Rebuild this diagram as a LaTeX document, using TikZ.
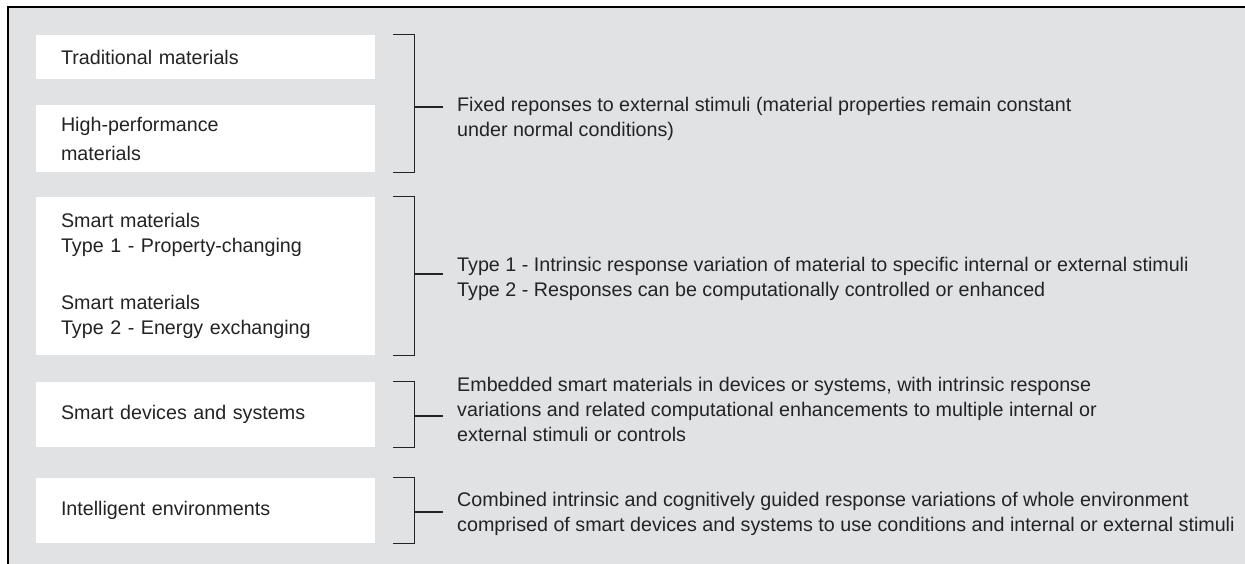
\documentclass[tikz,border=0pt]{standalone}
\usepackage{fontspec}
\setmainfont{Liberation Sans}
\usetikzlibrary{calc}
\usetikzlibrary{positioning}
\definecolor{panelgray}{RGB}{225,226,228}
\definecolor{inkgray}{RGB}{35,35,37}
\newcommand{\boxfont}{\fontsize{19.7}{24.5}\selectfont}
\newcommand{\respfont}{\fontsize{19.7}{25}\selectfont}
\tikzset{
	matbox/.style={
		fill=white,
		text=inkgray,
		inner xsep=25pt,
		inner ysep=0pt,
		text width=289pt,
		minimum height=#1,
		align=left,
		font=\boxfont,
	},
	resp/.style={
		text=inkgray,
		inner sep=0pt,
		anchor=north west,
		align=left,
		font=\respfont,
	},
	brk/.style={
		draw=inkgray,
		line width=1.3pt,
	},
	frame/.style={
		draw=black,
		line width=2pt,
	},
}

\begin{document}
\begin{tikzpicture}[x=1pt,y=-1pt]
		\useasboundingbox (0,0) rectangle (1245,564);
		\fill[panelgray] (8,7) rectangle (1245,564);
		\draw[frame] (8,564) -- (8,7) -- (1245,7);

		\node[matbox=44pt] 		(trad) at (205.5,57) {Traditional materials};
		\node[matbox=67pt] 		(hiperf) at (205.5,138.5) {High-performance\\[4.5pt]materials};

		\draw[brk] ([xshift=18pt]trad.north east) -| ([xshift=39pt]hiperf.south east) -- ++(-21,0);
		\coordinate 				(fixstem) at (414,107);
		\draw[brk] 				(fixstem) -- ++(29,0);
		\node[resp] 				(fixtext) at (457,97.5) {Fixed reponses to external stimuli (material properties remain constant\\under normal conditions)};

%*********

		\node[matbox=158pt] 		(smart) at (205.5,276) {Smart materials\\Type 1 - Property-changing\\[33pt]Smart materials\\Type 2 - Energy exchanging};

		\draw[brk] ([xshift=18pt]smart.north east) -| ([xshift=39pt]smart.south east) -- ++(-21,0);
		\coordinate 				(smartstem) at (414,274);
		\draw[brk] 				(smartstem) -- ++(29,0);
		\node[resp] 				(smarttext) at (457,257.5) {Type 1 - Intrinsic response variation of material to specific internal or external stimuli\\Type 2 - Responses can be computationally controlled or enhanced};

%*********

		\node[matbox=65pt] 		(devices) at (205.5,414.5) {Smart devices and systems};

		\draw[brk] ([xshift=18pt]devices.north east) -| ([xshift=39pt]devices.south east) -- ++(-21,0);
		\coordinate 				(devstem) at (414,416);
		\draw[brk] 				(devstem) -- ++(29,0);
		\node[resp] 				(devtext) at (457,377.5) {Embedded smart materials in devices or systems, with intrinsic response\\variations and related computational enhancements to multiple internal or\\external stimuli or controls};

%*********

		\node[matbox=65pt] 		(intel) at (205.5,510.5) {Intelligent environments};

		\draw[brk] ([xshift=18pt]intel.north east) -| ([xshift=39pt]intel.south east) -- ++(-21,0);
		\coordinate 				(intelstem) at (414,512);
		\draw[brk] 				(intelstem) -- ++(29,0);
		\node[resp] 				(inteltext) at (457,492) {Combined intrinsic and cognitively guided response variations of whole environment\\comprised of smart devices and systems to use conditions and internal or external stimuli};

	\end{tikzpicture}
\end{document}
